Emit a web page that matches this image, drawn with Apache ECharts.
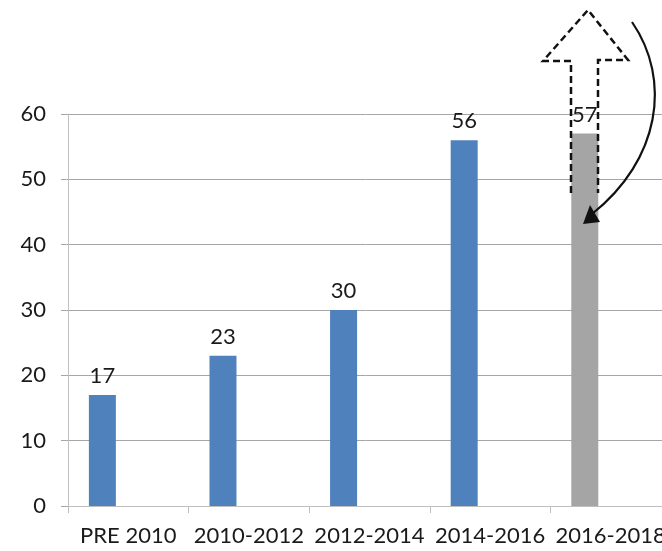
<!DOCTYPE html>
<html>
<head>
<meta charset="utf-8">
<script src="https://cdn.jsdelivr.net/npm/echarts@6/dist/echarts.min.js"></script>
<style>
  html, body { margin: 0; padding: 0; background: #fff; }
  #chart { width: 662px; height: 551px; }
</style>
</head>
<body>
<div id="chart"></div>
<script>
const categories = ['PRE 2010', '2010-2012', '2012-2014', '2014-2016', '2016-2018'];
const values = [17, 23, 30, 56, 57];
const emptySeries = [null, null, null, null, null];
const barColors = ['#4F81BD', '#4F81BD', '#4F81BD', '#4F81BD', '#A5A5A5'];

const chart = echarts.init(document.getElementById('chart'), null, { renderer: 'canvas' });

const fontFamily = 'Lato, "Noto Sans", sans-serif';

const option = {
  backgroundColor: '#fff',
  animation: false,
  grid: { left: 68, top: 114, width: 603, height: 392, outerBoundsMode: 'none', containLabel: false },
  xAxis: {
    type: 'category',
    data: categories,
    axisLine: { lineStyle: { color: '#bfbfbf', width: 1 } },
    axisTick: { show: true, length: 7, lineStyle: { color: '#bfbfbf' } },
    axisLabel: { color: '#1a1a1a', fontSize: 22, fontFamily: fontFamily, margin: 19, interval: 0, hideOverlap: false },
    splitLine: { show: false }
  },
  yAxis: {
    type: 'value',
    min: 0,
    max: 60,
    interval: 10,
    axisLine: { show: true, lineStyle: { color: '#bfbfbf', width: 1 } },
    axisTick: { show: true, length: 7, lineStyle: { color: '#a6a6a6' } },
    axisLabel: { color: '#1a1a1a', fontSize: 22, fontFamily: fontFamily, margin: 22 },
    splitLine: { lineStyle: { color: '#a6a6a6', width: 1 } }
  },
  series: [
    {
      type: 'bar',
      data: values.map((v, i) => ({ value: v, itemStyle: { color: barColors[i] } })),
      barWidth: 27,
      barGap: '92%',
      label: {
        show: true,
        position: 'top',
        distance: 8,
        color: '#1a1a1a',
        fontSize: 22,
        fontFamily: fontFamily
      }
    },
    {
      type: 'bar',
      data: emptySeries,
      barWidth: 27
    }
  ],
  graphic: [
    {
      type: 'polyline',
      shape: { points: [[571, 193], [571, 61], [543, 61], [588, 10], [628, 60], [598, 60], [598, 193]] },
      style: { stroke: '#111', lineWidth: 2.5, lineDash: [7, 4], fill: null },
      z: 100
    },
    {
      type: 'bezierCurve',
      shape: { x1: 632, y1: 22, cpx1: 672, cpy1: 80, cpx2: 660, cpy2: 160, x2: 592, y2: 214 },
      style: { stroke: '#111', lineWidth: 2.2, fill: null },
      z: 100
    },
    {
      type: 'polygon',
      shape: { points: [[583, 224], [600, 222], [590, 205]] },
      style: { fill: '#111' },
      z: 100
    }
  ]
};

chart.setOption(option);
</script>
</body>
</html>
